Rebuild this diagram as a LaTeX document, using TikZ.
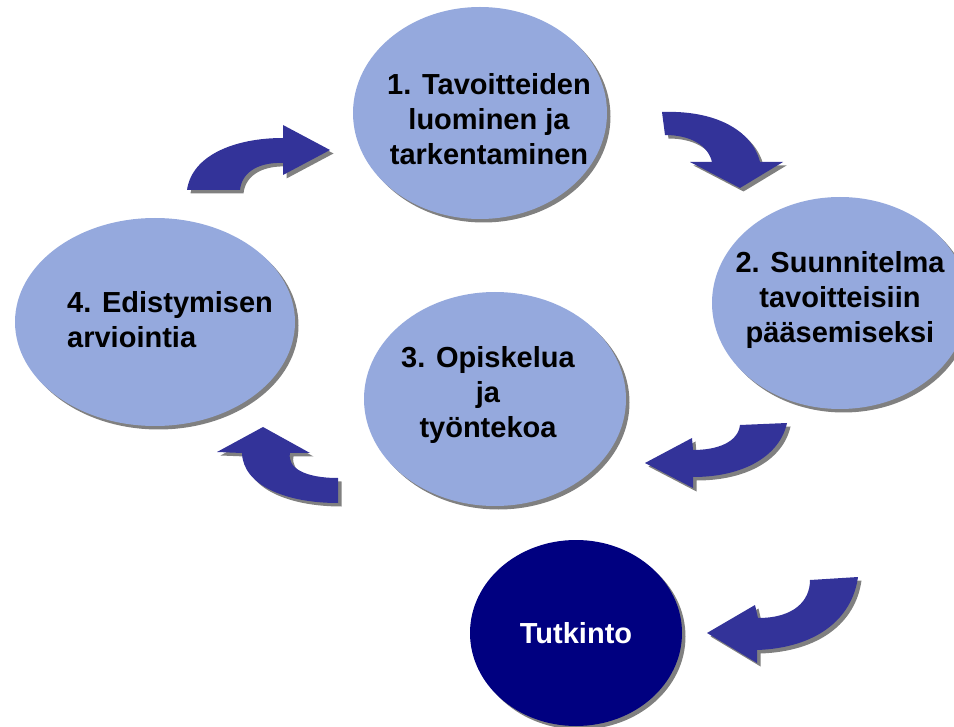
\documentclass[tikz,border=0pt]{standalone}
\usepackage{fontspec}
\setmainfont{Liberation Sans}
\usetikzlibrary{shapes.geometric,shadows}
\definecolor{blobfill}{RGB}{149,169,221}
\definecolor{arrowfill}{RGB}{51,51,153}
\definecolor{navyfill}{RGB}{0,0,128}
\definecolor{shadowgray}{RGB}{128,128,128}
\tikzset{
  shad/.style={general shadow={shadow xshift=3.5pt,shadow yshift=-3.5pt,fill=shadowgray}},
  blob/.style={ellipse,fill=blobfill,inner sep=0pt,shad},
  darkblob/.style={ellipse,fill=navyfill,inner sep=0pt,shad},
  blockarrow/.style={fill=arrowfill,shad},
  lbl/.style={font=\fontsize{29}{35}\selectfont\bfseries,inner sep=0pt}
}
\begin{document}
\begin{tikzpicture}[x=1pt,y=-1pt]
\useasboundingbox (0,0) rectangle (954,727);
% ellipses
\node[blob,minimum width=254pt,minimum height=212pt] (e1) at (480,113) {};
\node[blob,minimum width=256pt,minimum height=212pt] (e2) at (840,303) {};
\node[blob,minimum width=262pt,minimum height=214pt] (e3) at (495,399) {};
\node[blob,minimum width=280pt,minimum height=208pt] (e4) at (155,322) {};
\node[darkblob,minimum width=212pt,minimum height=186pt] (e5) at (576,633) {};
% texts
\node[lbl,align=center] (t1) at (489,119) {1. Tavoitteiden\\luominen ja\\tarkentaminen};
\node[lbl,align=center] (t2) at (840,300) {2. Suunnitelma\\tavoitteisiin\\pääsemiseksi};
\node[lbl,align=center] (t3) at (488,395) {3. Opiskelua\\ja\\työntekoa};
\node[lbl,align=left,anchor=west] (t4) at (67,320) {4. Edistymisen\\arviointia};
\node[lbl,text=white] (t5) at (576,633) {Tutkinto};
% block arrows
\path[blockarrow] (187,190) .. controls (192,155) and (235,138) .. (283,138) -- (283,125) -- (330,150) -- (283,175) -- (283,163) .. controls (262,162) and (242,170) .. (240,190) -- cycle;
\path[blockarrow] (662,112) .. controls (715,110) and (752,130) .. (760,162) -- (783,162) -- (740,188) -- (690,162) -- (712,162) .. controls (708,145) and (690,135) .. (665,135) -- cycle;
\path[blockarrow] (740,425) .. controls (738,442) and (718,450) .. (693,450) -- (692,438) -- (645,463) -- (693,488) -- (693,477) .. controls (745,477) and (780,455) .. (787,423) -- cycle;
\path[blockarrow] (263,427) -- (310,453) -- (290,453) .. controls (287,468) and (305,478) .. (338,478) -- (338,503) .. controls (285,503) and (243,485) .. (242,453) -- (217,452) -- cycle;
\path[blockarrow] (810,580) .. controls (810,600) and (795,618) .. (758,618) -- (755,605) -- (707,633) -- (757,663) -- (757,650) .. controls (815,648) and (852,620) .. (858,577) -- cycle;
\end{tikzpicture}
\end{document}
